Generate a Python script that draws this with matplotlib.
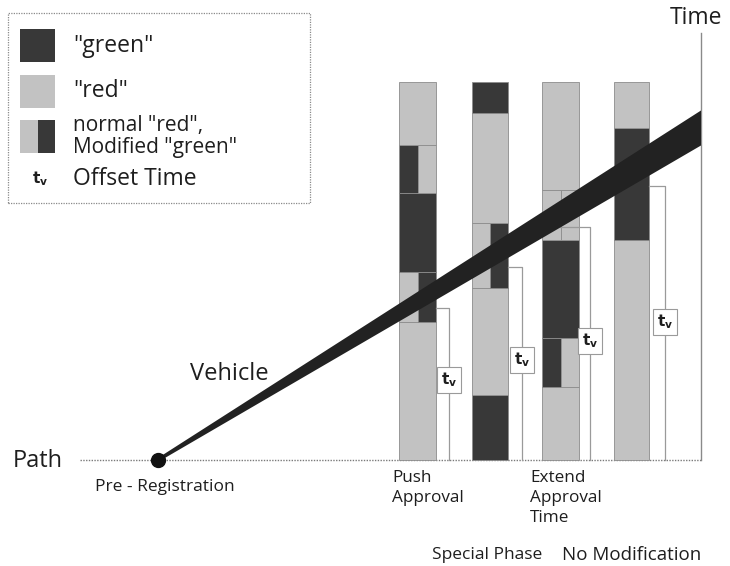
import matplotlib.pyplot as plt
from matplotlib.patches import Rectangle, Polygon

plt.rcParams['font.family'] = ['Open Sans', 'DejaVu Sans']

# signal columns: time boundaries (0 = path line) and the phase between them
# 'G' green, 'R' red, two letters = left half / right half (normal / modified)
col_names = ['Push Approval', 'Special Phase', 'Extend Approval Time', 'No Modification']
col_bounds = [
    [0, 138, 188, 267, 315, 378],
    [0, 65, 172, 237, 347, 378],
    [0, 73, 122, 220, 270, 378],
    [0, 220, 332, 378],
]
col_kinds = [
    ['R', 'RG', 'G', 'GR', 'R'],
    ['G', 'R', 'RG', 'R', 'G'],
    ['R', 'GR', 'G', 'RR', 'R'],
    ['R', 'G', 'R'],
]
offset_top = [152, 193, 233, 274]     # top of each offset-time bracket
offset_label = [80, 100, 119, 138]    # where the t_v tag sits

vehicle_start = (158, 0)     # pre-registration point on the path
vehicle_end = (701, 332)
vehicle_width = (4, 35)

# ---- layout / style ----
col_x = [(399, 436), (472, 508), (542, 579), (614, 649)]
bracket_x = [449, 522, 590, 665]
bracket_from = [436, 508, 560, 649]
DARK = '#383838'
LIGHT = '#c2c2c2'
EDGE = '#8c8c8c'
TXT = '#1e1e1e'
colors = {'G': DARK, 'R': LIGHT}

fig = plt.figure(figsize=(7.3, 5.66), dpi=100)
ax = fig.add_axes([0, 0, 1, 1])
ax.set_xlim(0, 730)
ax.set_ylim(-106, 460)
ax.axis('off')


def py(y_pix):
    # figure pixel row -> data y
    return 460 - y_pix


# path line and time axis
ax.plot([80, 701], [0, 0], color='#7a7a7a', lw=1.0, ls=(0, (1, 1)), zorder=1)
ax.plot([701, 701], [0, py(33)], color='#8a8a8a', lw=1.0, zorder=1)

# signal columns
for (x0, x1), bounds, kinds in zip(col_x, col_bounds, col_kinds):
    w = x1 - x0
    for b0, b1, k in zip(bounds[:-1], bounds[1:], kinds):
        if len(k) == 1:
            ax.add_patch(Rectangle((x0, b0), w, b1 - b0, facecolor=colors[k],
                                   edgecolor=EDGE, lw=0.6, zorder=2))
        else:
            ax.add_patch(Rectangle((x0, b0), w / 2, b1 - b0, facecolor=colors[k[0]],
                                   edgecolor=EDGE, lw=0.6, zorder=2))
            ax.add_patch(Rectangle((x0 + w / 2, b0), w / 2, b1 - b0, facecolor=colors[k[1]],
                                   edgecolor=EDGE, lw=0.6, zorder=2))

# offset-time brackets with t_v tags
for bf, bx, top, lab in zip(bracket_from, bracket_x, offset_top, offset_label):
    ax.plot([bf, bx, bx], [top, top, 0], color='#9a9a9a', lw=0.9, zorder=3)
    ax.text(bx, lab, r'$\mathbf{t_v}$', ha='center', va='center', fontsize=11,
            color=TXT, zorder=6,
            bbox=dict(boxstyle='square,pad=0.25', facecolor='white', edgecolor='#9a9a9a', lw=0.8))

# vehicle trajectory (widening band)
(sx, sy), (ex, ey) = vehicle_start, vehicle_end
w0, w1 = vehicle_width
band = Polygon([(sx, sy - w0 / 2), (ex, ey - w1 / 2), (ex, ey + w1 / 2), (sx, sy + w0 / 2)],
               closed=True, facecolor='#222222', edgecolor='none', zorder=4)
ax.add_patch(band)
ax.plot([sx], [sy], 'o', color='#111111', markersize=10, zorder=5)

# labels
ax.text(13, py(461), 'Path', fontsize=17, color=TXT, ha='left', va='center')
ax.text(190, py(374), 'Vehicle', fontsize=17, color=TXT, ha='left', va='center')
ax.text(95, py(487), 'Pre - Registration', fontsize=12.5, color=TXT, ha='left', va='center')
ax.text(670, py(18), 'Time', fontsize=16.5, color=TXT, ha='left', va='center')
ax.text(392, py(488), 'Push\nApproval', fontsize=12.3, color=TXT, ha='left', va='center',
        linespacing=1.32)
ax.text(530, py(498), 'Extend\nApproval\nTime', fontsize=12.3, color=TXT, ha='left', va='center',
        linespacing=1.32)
ax.text(432, py(555), 'Special Phase', fontsize=12.5, color=TXT, ha='left', va='center')
ax.text(562, py(555), 'No Modification', fontsize=13.5, color=TXT, ha='left', va='center')

# legend box
ax.add_patch(Rectangle((8, py(203)), 302, 190, facecolor='white', edgecolor='#8a8a8a',
                       lw=0.9, ls=(0, (1, 1)), zorder=7))
ax.add_patch(Rectangle((20, py(62)), 35, 33, facecolor=DARK, edgecolor='none', zorder=8))
ax.add_patch(Rectangle((20, py(108)), 35, 33, facecolor=LIGHT, edgecolor='none', zorder=8))
ax.add_patch(Rectangle((20, py(153)), 18, 33, facecolor=LIGHT, edgecolor='none', zorder=8))
ax.add_patch(Rectangle((38, py(153)), 17, 33, facecolor=DARK, edgecolor='none', zorder=8))
ax.text(73, py(46), '"green"', fontsize=16.5, color=TXT, va='center', zorder=9)
ax.text(73, py(91), '"red"', fontsize=16.5, color=TXT, va='center', zorder=9)
ax.text(73, py(126), 'normal "red",', fontsize=15, color=TXT, va='center', zorder=9)
ax.text(73, py(148), 'Modified "green"', fontsize=15, color=TXT, va='center', zorder=9)
ax.text(40, py(179), r'$\mathbf{t_v}$', fontsize=11, color=TXT, ha='center', va='center', zorder=9)
ax.text(73, py(179), 'Offset Time', fontsize=16.5, color=TXT, va='center', zorder=9)

fig.savefig('out.png', dpi=100)
